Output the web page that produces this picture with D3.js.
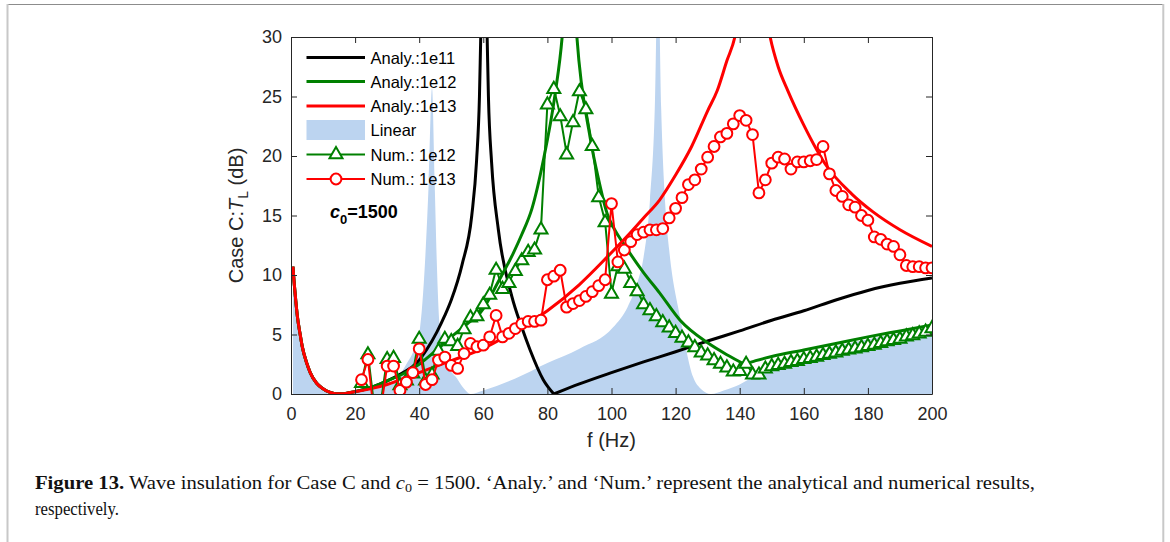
<!DOCTYPE html>
<html><head><meta charset="utf-8">
<script src="https://cdn.jsdelivr.net/npm/d3@7"></script>
<style>body{margin:0;background:#fff}svg{display:block}</style>
</head><body>
<svg id="c" width="1170" height="542"></svg>
<script>
// ---------- data ----------
const xTicks = [0,20,40,60,80,100,120,140,160,180,200];
const yTicks = [0,5,10,15,20,25,30];

// common low-frequency part shared by the analytical / linear curves
const lowF = [0.6,1,1.5,2,2.8,3.5,4.9,6,8,10,12,14,16,18,20];
const lowV = [10.7,9.3,7.8,6.5,5.1,4.0,2.6,1.8,0.9,0.45,0.15,0.02,0.02,0.1,0.2];

// Analy.:1e11 (black) - two branches, kink at 82 Hz
const a11F = [25,30,35,39.2,42.5,45.5,48,50,53.4,56.4,57.9,58.8,59.2,60.2,61.2,61.6,62.6,64.7,68.9,72,74.6,78.7,82];
const a11V = [0.55,1.1,1.8,2.6,3.8,5.2,6.6,7.9,10.9,15,19.6,25,30,40,30,25,19.4,13.8,8.2,5.6,3.7,1.2,0];
const a11F2 = [82,90,100,110,120,130,140,150,160,170,180,190,200];
const a11V2 = [0,0.85,1.8,2.7,3.55,4.45,5.3,6.2,7.0,7.9,8.7,9.3,9.75];

// Analy.:1e12 (green) - kink at 141.5 Hz
const a12F = [25,30,35,40,45,50,55,59,65,69.3,72,75.2,78.7,82.4,84.6,87,89.2,93.3,96,98.6,101,103.6,110,115,121.4,130,136,141.5];
const a12V = [0.55,1.1,1.7,2.5,3.6,4.8,5.9,6.8,9.6,11.8,13.4,15.6,19.6,25.2,30,40,30,21.6,18,15.2,13.8,12.7,10.2,8.5,6.2,4.3,3.3,2.5];
const a12F2 = [141.5,145,150,160,170,180,190,200];
const a12V2 = [2.5,2.8,3.15,3.7,4.25,4.8,5.3,5.8];

// Analy.:1e13 (red)
const a13F = [25,30,40,50,59,70,80,90,98.6,105,110,115,120,125,130,133,136,138.5,141,144,147,149.5,152,155,160,167,175,181.6,190,200];
const a13V = [0.45,0.8,1.8,2.8,3.7,5.3,7.0,9.2,11.5,13.3,14.8,16.3,18.4,20.8,23.8,25.5,28,30,34,40,34,30,27.5,25.5,22.6,19.2,16.8,15.3,13.8,12.4];

// Linear (blue area)
const linF = [25,30,33,36.2,38.5,40.2,41.8,43,44,44.8,45.5,46.5,48.7,51.8,54,56,60,70,80,90,100.5,105,108,110,112,113.5,114.5,115.5,117,118,121.4,125.5,128,131,135,140,145,150,160,170,180,190,200];
const linV = [0.4,0.8,1.3,2.6,3.8,5.4,11,18,25.7,18,11,5.4,2.6,1.3,0.45,0,0.3,1.3,2.6,3.8,5.6,7.3,9.3,11.5,16.3,24,36,24,15,12.1,6.5,1.4,0.4,0,0.3,0.8,1.6,2.3,3.2,4.0,4.6,5.1,5.6];

// numerical results, f = 22..200 step 2
const numF = d3.range(22, 201, 2);
const num12 = [1.0,3.4,-1.1,-0.75,3.0,3.1,0.8,1.2,1.8,4.7,1.2,1.7,3.7,4.7,4.5,4.1,5.5,6.5,6.6,7.6,
  8.4,10.5,8.9,9.4,10.4,11.3,12.0,12.2,13.9,24.4,25.7,23.4,20.2,22.9,25.5,24.0,20.9,16.6,14.5,8.5,
  10.8,10.6,9.4,8.7,7.6,7.1,6.6,6.1,5.65,5.2,4.8,4.4,4.0,3.55,3.3,2.9,2.6,2.3,1.95,2.0,
  2.6,1.7,1.7,2.2,2.4,2.5,2.6,2.75,2.85,3.0,3.1,3.2,3.35,3.45,3.55,3.7,3.8,3.9,4.0,4.1,
  4.2,4.35,4.5,4.6,4.7,4.9,5.0,5.15,5.3,5.6];
const num13 = [1.2,2.9,-1.9,-1.3,2.35,2.35,0.3,1.0,1.8,3.8,0.8,1.2,2.85,3.1,2.4,2.15,3.4,4.25,3.97,4.1,
  4.8,6.6,4.8,5.1,5.5,5.9,6.1,6.1,6.2,9.6,9.9,10.4,7.3,7.6,7.85,8.2,8.6,9.1,9.6,16.0,
  11.1,12.1,12.8,13.4,13.6,13.8,13.8,13.9,14.8,15.6,16.5,17.6,18.0,18.9,19.9,20.8,21.6,21.9,22.7,23.4,
  23.0,21.8,16.9,18.0,19.4,19.9,19.75,18.9,19.5,19.5,19.6,19.7,20.8,18.5,17.1,16.6,15.9,15.7,15.0,14.6,
  13.2,13.0,12.6,12.4,11.7,10.8,10.7,10.7,10.6,10.6];

const legendLabels = ["Analy.:1e11","Analy.:1e12","Analy.:1e13","Linear","Num.: 1e12","Num.: 1e13"];

// ---------- drawing ----------
const C = {black:"#000000", green:"#008000", red:"#ff0000", blue:"#bcd4f0", axis:"#262626"};
const FONT = "'Liberation Sans', Arial, Helvetica, sans-serif";
const svg = d3.select("#c");

// page frame
svg.append("line").attr("x1",7.5).attr("x2",1163).attr("y1",4.5).attr("y2",4.5).attr("stroke","#8c8c8c").attr("stroke-width",1);
svg.append("line").attr("x1",7.5).attr("x2",7.5).attr("y1",4).attr("y2",542).attr("stroke","#c8c8c8").attr("stroke-width",2);
svg.append("line").attr("x1",1163.3).attr("x2",1163.3).attr("y1",4).attr("y2",542).attr("stroke","#c8c8c8").attr("stroke-width",2);

const x = d3.scaleLinear().domain([0,200]).range([291,932]);
const y = d3.scaleLinear().domain([0,30]).range([394,37]);

svg.append("defs").append("clipPath").attr("id","plot")
  .append("rect").attr("x",291).attr("y",37).attr("width",641).attr("height",357);

const g = svg.append("g").attr("clip-path","url(#plot)");
const zip = (F,V) => F.map((f,i)=>[f,V[i]]);

const area = d3.area().x(d=>x(d[0])).y0(y(0)).y1(d=>y(d[1])).curve(d3.curveMonotoneX);
g.append("path").datum(zip(lowF.concat(linF), lowV.concat(linV)))
  .attr("d",area).attr("fill",C.blue).attr("stroke","none");

const line = d3.line().x(d=>x(d[0])).y(d=>y(d[1])).curve(d3.curveMonotoneX);
function curve(data,color,w){
  g.append("path").datum(data).attr("d",line).attr("fill","none")
   .attr("stroke",color).attr("stroke-width",w).attr("stroke-linejoin","round");
}
curve(zip(lowF.concat(a11F), lowV.concat(a11V)), C.black, 3);
curve(zip(a11F2,a11V2), C.black, 3);
curve(zip(lowF.concat(a12F), lowV.concat(a12V)), C.green, 3);
curve(zip(a12F2,a12V2), C.green, 3);
curve(zip(lowF.concat(a13F), lowV.concat(a13V)), C.red, 3);

const lineL = d3.line().x(d=>x(d[0])).y(d=>y(d[1]));
const tri = "M0,-6.4L6.5,4.8L-6.5,4.8Z";
function numeric(V,color,marker){
  const data = zip(numF,V);
  g.append("path").datum(data).attr("d",lineL).attr("fill","none")
   .attr("stroke",color).attr("stroke-width",2).attr("stroke-linejoin","round");
  const m = g.append("g");
  data.forEach(d=>{
    if(marker==="tri"){
      m.append("path").attr("d",tri).attr("transform",`translate(${x(d[0])},${y(d[1])})`)
       .attr("fill","#fff").attr("stroke",color).attr("stroke-width",2).attr("stroke-linejoin","miter");
    } else {
      m.append("circle").attr("cx",x(d[0])).attr("cy",y(d[1])).attr("r",5.4)
       .attr("fill","#fff").attr("stroke",color).attr("stroke-width",2);
    }
  });
}
numeric(num12, C.green, "tri");
numeric(num13, C.red, "circ");

// axes
function styleAxis(sel){
  sel.selectAll("path.domain").attr("stroke",C.axis).attr("stroke-width",1);
  sel.selectAll(".tick line").attr("stroke",C.axis).attr("stroke-width",1);
  sel.selectAll("text").attr("fill",C.axis).attr("font-family",FONT).attr("font-size","18px");
}
const ax = svg.append("g").attr("transform","translate(0,394)")
  .call(d3.axisBottom(x).tickValues(xTicks).tickSize(-6).tickSizeOuter(0).tickPadding(13).tickFormat(d3.format("d")));
styleAxis(ax);
const axT = svg.append("g").attr("transform","translate(0,37)")
  .call(d3.axisTop(x).tickValues(xTicks).tickSize(-6).tickSizeOuter(0).tickFormat(""));
styleAxis(axT);
const ay = svg.append("g").attr("transform","translate(291,0)")
  .call(d3.axisLeft(y).tickValues(yTicks).tickSize(-6).tickSizeOuter(0).tickPadding(9).tickFormat(d3.format("d")));
styleAxis(ay);
const ayR = svg.append("g").attr("transform","translate(932,0)")
  .call(d3.axisRight(y).tickValues(yTicks).tickSize(-6).tickSizeOuter(0).tickFormat(""));
styleAxis(ayR);

// axis labels
svg.append("text").attr("x",611.5).attr("y",447).attr("text-anchor","middle")
  .attr("font-family",FONT).attr("font-size","20px").attr("fill",C.axis).text("f (Hz)");
const yl = svg.append("text").attr("transform","translate(243,215.5) rotate(-90)").attr("text-anchor","middle")
  .attr("font-family",FONT).attr("font-size","20px").attr("fill",C.axis);
yl.append("tspan").text("Case C:");
yl.append("tspan").attr("font-style","italic").text("T");
yl.append("tspan").attr("font-size","14px").attr("dy",5).text("L");
yl.append("tspan").attr("dy",-5).text(" (dB)");

// legend
const legY = [57.5,81.5,106,130,154.5,179];
const legColors = [C.black,C.green,C.red,C.blue,C.green,C.red];
const lg = svg.append("g");
legendLabels.forEach((t,i)=>{
  const yy = legY[i];
  if(i===3){
    lg.append("rect").attr("x",306.5).attr("y",yy-10).attr("width",58.5).attr("height",20).attr("fill",C.blue);
  } else {
    lg.append("line").attr("x1",306.5).attr("x2",365).attr("y1",yy).attr("y2",yy)
      .attr("stroke",legColors[i]).attr("stroke-width",i<3?3:2);
    if(i===4) lg.append("path").attr("d",tri).attr("transform",`translate(336,${yy-1})`)
      .attr("fill","#fff").attr("stroke",C.green).attr("stroke-width",2);
    if(i===5) lg.append("circle").attr("cx",336).attr("cy",yy).attr("r",5.4)
      .attr("fill","#fff").attr("stroke",C.red).attr("stroke-width",2);
  }
  lg.append("text").attr("x",370.5).attr("y",yy+6).attr("font-family",FONT).attr("font-size","16.5px")
    .attr("fill","#000").text(t);
});

// c0 = 1500 annotation
const ct = svg.append("text").attr("x",330).attr("y",217.5).attr("font-family",FONT)
  .attr("font-size","18px").attr("font-weight","bold").attr("fill","#000");
ct.append("tspan").attr("font-style","italic").text("c");
ct.append("tspan").attr("font-size","13px").attr("dy",6).text("0");
ct.append("tspan").attr("dy",-6).text("=1500");

// caption
const SERIF = "'Liberation Serif', 'Times New Roman', serif";
const cap = svg.append("text").attr("x",35).attr("y",489).attr("font-family",SERIF)
  .attr("font-size","19px").attr("fill","#111").attr("textLength",1000).attr("lengthAdjust","spacingAndGlyphs");
cap.append("tspan").attr("font-weight","bold").text("Figure 13.");
cap.append("tspan").text(" Wave insulation for Case C and ");
cap.append("tspan").attr("font-style","italic").text("c");
cap.append("tspan").attr("font-size","13px").attr("dy",3).text("0");
cap.append("tspan").attr("dy",-3).text(" = 1500. \u2018Analy.\u2019 and \u2018Num.\u2019 represent the analytical and numerical results,");
svg.append("text").attr("x",35).attr("y",515).attr("font-family",SERIF)
  .attr("font-size","19px").attr("fill","#111").attr("textLength",84).attr("lengthAdjust","spacingAndGlyphs")
  .text("respectively.");
</script>
</body></html>
